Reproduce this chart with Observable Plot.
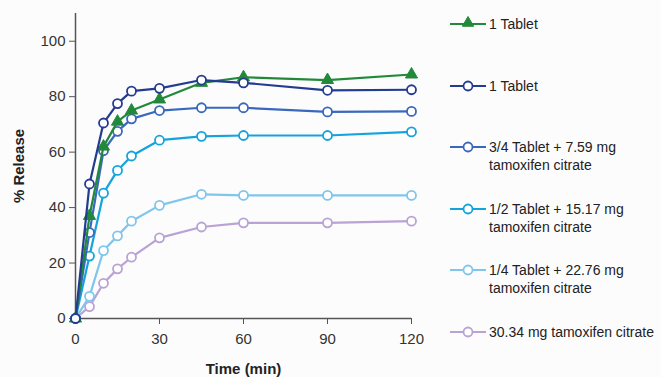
<!DOCTYPE html>
<html>
<head>
<meta charset="utf-8">
<script src="https://cdn.jsdelivr.net/npm/d3@7"></script>
<script src="https://cdn.jsdelivr.net/npm/@observablehq/plot@0.6"></script>
<style>
  html, body { margin: 0; padding: 0; background: #fcfcfd; }
  #chart { position: relative; width: 661px; height: 377px; }
</style>
</head>
<body>
<div id="chart"></div>
<script>
const time = [0, 5, 10, 15, 20, 30, 45, 60, 90, 120];
const seriesNames = [
  "1 Tablet (A)",
  "1 Tablet (B)",
  "3/4 Tablet + 7.59 mg tamoxifen citrate",
  "1/2 Tablet + 15.17 mg tamoxifen citrate",
  "1/4 Tablet + 22.76 mg tamoxifen citrate",
  "30.34 mg tamoxifen citrate"
];
const legendLabels = [
  ["1 Tablet"],
  ["1 Tablet"],
  ["3/4 Tablet + 7.59 mg", "tamoxifen citrate"],
  ["1/2 Tablet + 15.17 mg", "tamoxifen citrate"],
  ["1/4 Tablet + 22.76 mg", "tamoxifen citrate"],
  ["30.34 mg tamoxifen citrate"]
];
const oneTabletA   = [0, 37, 62, 71, 75, 79, 85, 87, 86, 88];
const oneTabletB   = [0, 48.5, 70.5, 77.5, 82, 83, 86, 85, 82.3, 82.5];
const threeQuarter = [0, 31, 60.5, 67.5, 72, 75, 76, 76, 74.5, 74.7];
const half         = [0, 22.5, 45.2, 53.4, 58.6, 64.3, 65.7, 66, 66, 67.3];
const quarter      = [0, 8, 24.5, 29.8, 35.1, 40.8, 44.8, 44.4, 44.4, 44.4];
const none         = [0, 4.3, 12.7, 17.9, 22.1, 29.1, 33, 34.5, 34.5, 35.1];
const colors = ["#22893a", "#233c8f", "#3a68bd", "#14a4dc", "#80c6ec", "#b9a2d4"];

const allValues = [oneTabletA, oneTabletB, threeQuarter, half, quarter, none];
const rows = [];
allValues.forEach((vals, si) => {
  vals.forEach((v, i) => rows.push({series: seriesNames[si], t: time[i], v}));
});

const drawOrder = [5, 4, 3, 2, 0, 1];
const lineMarks = [];
drawOrder.forEach(si => {
  const data = rows.filter(d => d.series === seriesNames[si]);
  lineMarks.push(Plot.line(data, {x: "t", y: "v", stroke: colors[si], strokeWidth: 2.2}));
  if (si === 0) {
    lineMarks.push(Plot.dot(data, {x: "t", y: "v", symbol: "triangle", r: 4.5, fill: colors[si], stroke: colors[si], strokeWidth: 1}));
  } else {
    lineMarks.push(Plot.dot(data, {x: "t", y: "v", symbol: "circle", r: 4.5, fill: "white", stroke: colors[si], strokeWidth: 1.8}));
  }
});

const plot = Plot.plot({
  width: 661,
  height: 377,
  marginLeft: 75,
  marginRight: 250,
  marginTop: 13,
  marginBottom: 59,
  style: {background: "transparent", fontFamily: "Liberation Sans, Arial, sans-serif", fontSize: "15px", color: "#333"},
  x: {domain: [0, 120]},
  y: {domain: [0, 110]},
  marks: [
    Plot.axisX({ticks: [0, 30, 60, 90, 120], tickSize: 6, tickPadding: 9, fontSize: 15, stroke: "#555",
      label: "Time (min)", labelAnchor: "center", labelArrow: "none", labelOffset: 55}),
    Plot.axisY({ticks: [0, 20, 40, 60, 80, 100], tickSize: 6, tickPadding: 4, fontSize: 15, stroke: "#555",
      label: "% Release", labelAnchor: "center", labelArrow: "none", labelOffset: 62}),
    Plot.ruleY([0], {stroke: "#555", strokeWidth: 1.5}),
    Plot.ruleX([0], {stroke: "#555", strokeWidth: 1.5}),
    ...lineMarks
  ]
});
document.getElementById("chart").appendChild(plot);

const svg = d3.select(plot);
svg.selectAll("[aria-label='x-axis label'] text, [aria-label='y-axis label'] text")
  .style("font-weight", "bold").style("font-size", "15px").attr("fill", "#222");

// legend
const leg = svg.append("g").attr("font-family", "Liberation Sans, Arial, sans-serif")
  .attr("font-size", 14).attr("fill", "#222").attr("text-anchor", "start");
const legendY = [24, 86, 147, 209, 270, 332];
legendLabels.forEach((lines, i) => {
  const g = leg.append("g").attr("transform", `translate(0,${legendY[i]})`);
  g.append("line").attr("x1", 450).attr("x2", 486).attr("y1", 0).attr("y2", 0)
    .attr("stroke", colors[i]).attr("stroke-width", 2);
  if (i === 0) {
    g.append("path").attr("d", d3.symbol(d3.symbolTriangle, 55)()).attr("transform", "translate(468,-1)")
      .attr("fill", colors[i]).attr("stroke", colors[i]);
  } else {
    g.append("circle").attr("cx", 468).attr("cy", 0).attr("r", 4.5).attr("fill", "white")
      .attr("stroke", colors[i]).attr("stroke-width", 1.8);
  }
  lines.forEach((txt, j) => {
    g.append("text").attr("x", 489).attr("y", j * 18).attr("dy", "0.35em").attr("text-anchor", "start").text(txt);
  });
});
</script>
</body>
</html>
